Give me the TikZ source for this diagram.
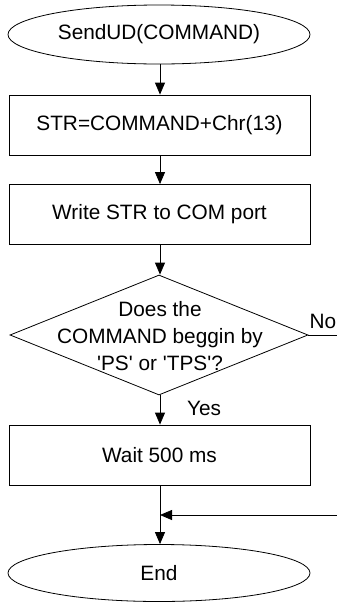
\documentclass[tikz,border=0pt]{standalone}
\usepackage{fontspec}
\setmainfont{Liberation Sans}
\usetikzlibrary{shapes.geometric,arrows.meta}
\begin{document}
\begin{tikzpicture}[x=1pt,y=-1pt,
  every node/.style={font=\fontsize{20.8}{27}\selectfont},
  term/.style={draw, ellipse, line width=0.8pt, minimum width=302pt, minimum height=59pt, inner sep=0pt},
  procbox/.style={draw, rectangle, line width=0.8pt, minimum width=301pt, minimum height=60pt, inner sep=0pt},
  decide/.style={draw, diamond, line width=0.8pt, minimum width=298pt, minimum height=120pt, inner sep=0pt},
  flow/.style={line width=0.8pt, -{Triangle[width=10pt,length=12pt]}},
  plain/.style={line width=0.8pt}]
\useasboundingbox (0,0) rectangle (337,603);
\node[term] (start) at (159,34.5) {SendUD(COMMAND)};
\node[procbox] (b1) at (159.5,125) {STR=COMMAND+Chr(13)};
\node[procbox] (b2) at (159.5,214.5) {Write STR to COM port};
\node[decide] (d) at (159,335) {};
\node[align=center, inner sep=0pt] (dt) at (160,336) {Does the\\COMMAND beggin by\\\textquotesingle PS\textquotesingle{} or \textquotesingle TPS\textquotesingle ?};
\node[procbox] (b3) at (159.5,455) {Wait 500 ms};
\node[term, minimum height=57pt] (end) at (159,573) {End};
\coordinate (nox) at (337,335);
\coordinate (backx) at (337,515);
\coordinate (merge) at (160,515);
\node[anchor=base west, inner sep=0pt] (no) at (309.5,328) {No};
\node[anchor=base west, inner sep=0pt] (yes) at (187,415) {Yes};
\draw[flow] (start.south -| merge) -- (b1.north -| merge);
\draw[flow] (b1.south -| merge) -- (b2.north -| merge);
\draw[flow] (b2.south -| merge) -- (d.north -| merge);
\draw[flow] (d.south -| merge) -- (b3.north -| merge);
\draw[flow] (b3.south -| merge) -- (end.north -| merge);
\draw[plain] (d.east) -- (nox);
\draw[flow] (backx) -- (merge);
\end{tikzpicture}
\end{document}
